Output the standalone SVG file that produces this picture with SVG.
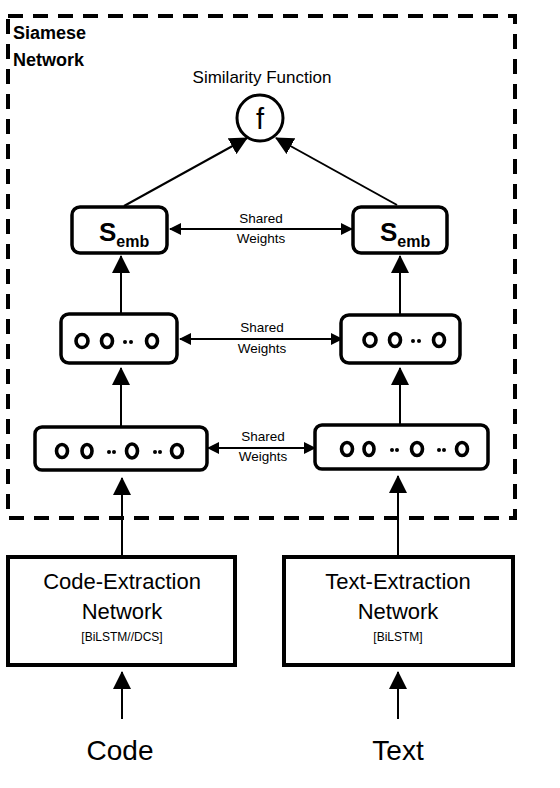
<svg xmlns="http://www.w3.org/2000/svg" width="560" height="788" viewBox="0 0 560 788">
<style>
text{font-family:"Liberation Sans",Arial,sans-serif;fill:#000}
.frame{fill:none;stroke:#000;stroke-width:4;stroke-dasharray:15 10}
.rbox{fill:#fff;stroke:#000;stroke-width:3.5}
.ebox{fill:#fff;stroke:#000;stroke-width:4}
.conn{stroke:#000;stroke-width:2;fill:none}
.big{marker-end:url(#ah)}
.both{marker-start:url(#sh);marker-end:url(#sh)}
.neu{fill:none;stroke:#000;stroke-width:3.6}
.dot{fill:#000}
.sw{font-size:13.5px;text-anchor:middle}
.title{font-size:18px;font-weight:bold}
.ex{font-size:22px;text-anchor:middle}
.exs{font-size:12px;text-anchor:middle}
.in{font-size:28px;text-anchor:middle}
</style>
<defs>
<marker id="ah" viewBox="0 0 18 18" refX="17" refY="9" markerWidth="18" markerHeight="18" markerUnits="userSpaceOnUse" orient="auto"><path d="M0,0 L18,9 L0,18 z" fill="#000"/></marker>
<marker id="sh" viewBox="0 0 12 12" refX="11" refY="6" markerWidth="12" markerHeight="12" markerUnits="userSpaceOnUse" orient="auto-start-reverse"><path d="M0,0 L12,6 L0,12 z" fill="#000"/></marker>
</defs>
<rect width="560" height="788" fill="#fff"/>
<g id="siamese">
<rect class="frame" x="8" y="16" width="507" height="502"/>
<text class="title" x="13" y="39">Siamese</text>
<text class="title" x="13" y="66">Network</text>
</g>
<g id="connectors">
<line class="conn big" x1="124" y1="206" x2="247" y2="138"/>
<line class="conn big" x1="397" y1="205" x2="276" y2="138"/>
<line class="conn both" x1="170" y1="229" x2="352" y2="229"/>
<line class="conn both" x1="180" y1="339" x2="342" y2="339"/>
<line class="conn both" x1="208" y1="448" x2="315" y2="448"/>
<line class="conn big" x1="121" y1="314" x2="121" y2="256"/>
<line class="conn big" x1="400" y1="315" x2="400" y2="256"/>
<line class="conn big" x1="121" y1="427" x2="121" y2="368"/>
<line class="conn big" x1="400" y1="425" x2="400" y2="368"/>
<line class="conn big" x1="122" y1="555" x2="122" y2="478"/>
<line class="conn big" x1="398" y1="555" x2="398" y2="476"/>
<line class="conn big" x1="122" y1="719" x2="122" y2="672"/>
<line class="conn big" x1="398" y1="719" x2="398" y2="672"/>
<text class="sw" x="261" y="223">Shared</text>
<text class="sw" x="261" y="243">Weights</text>
<text class="sw" x="262" y="332">Shared</text>
<text class="sw" x="262" y="353">Weights</text>
<text class="sw" x="263" y="441">Shared</text>
<text class="sw" x="263" y="461">Weights</text>
</g>
<g id="sim">
<text x="262" y="83" font-size="17" text-anchor="middle">Similarity Function</text>
<circle cx="260" cy="118" r="23" fill="#fff" stroke="#000" stroke-width="3"/>
<text x="260" y="129" font-size="29" text-anchor="middle">f</text>
</g>
<g id="semb-left">
<rect class="rbox" x="72" y="207" width="95" height="46" rx="8"/>
<text x="99" y="241" font-size="26" font-weight="bold">S<tspan font-size="16" dy="6">emb</tspan></text>
</g>
<g id="semb-right">
<rect class="rbox" x="353" y="207" width="94" height="46" rx="8"/>
<text x="380" y="241" font-size="26" font-weight="bold">S<tspan font-size="16" dy="6">emb</tspan></text>
</g>
<g id="mid-left">
<rect class="rbox" x="61" y="314" width="116" height="49" rx="8"/>
<ellipse class="neu" cx="82" cy="341" rx="6" ry="6.5"/>
<ellipse class="neu" cx="107" cy="341" rx="5.5" ry="6.5"/>
<circle class="dot" cx="125" cy="342" r="2"/>
<circle class="dot" cx="131" cy="342" r="2"/>
<ellipse class="neu" cx="152" cy="341" rx="5.5" ry="6.5"/>
</g>
<g id="mid-right">
<rect class="rbox" x="341" y="315" width="119" height="48" rx="8"/>
<ellipse class="neu" cx="370" cy="340" rx="6" ry="6.5"/>
<ellipse class="neu" cx="395" cy="340" rx="5.5" ry="6.5"/>
<circle class="dot" cx="413" cy="341" r="2"/>
<circle class="dot" cx="419" cy="341" r="2"/>
<ellipse class="neu" cx="439" cy="340" rx="5.5" ry="6.5"/>
</g>
<g id="low-left">
<rect class="rbox" x="35" y="427" width="172" height="43" rx="7"/>
<ellipse class="neu" cx="62" cy="451" rx="5.5" ry="6.5"/>
<ellipse class="neu" cx="87" cy="451" rx="5" ry="6.5"/>
<circle class="dot" cx="109" cy="452" r="2"/>
<circle class="dot" cx="114" cy="452" r="2"/>
<ellipse class="neu" cx="132" cy="451" rx="5.5" ry="7"/>
<circle class="dot" cx="155" cy="452" r="2"/>
<circle class="dot" cx="160" cy="452" r="2"/>
<ellipse class="neu" cx="177" cy="451" rx="5.5" ry="6.5"/>
</g>
<g id="low-right">
<rect class="rbox" x="315" y="425" width="173" height="44" rx="7"/>
<ellipse class="neu" cx="347" cy="449" rx="5.5" ry="6.5"/>
<ellipse class="neu" cx="369" cy="449" rx="5" ry="6.5"/>
<circle class="dot" cx="392" cy="450" r="2"/>
<circle class="dot" cx="397" cy="450" r="2"/>
<ellipse class="neu" cx="417" cy="449" rx="5.5" ry="6.5"/>
<circle class="dot" cx="439" cy="450" r="2"/>
<circle class="dot" cx="444" cy="450" r="2"/>
<ellipse class="neu" cx="462" cy="449" rx="5.5" ry="6.5"/>
</g>
<g id="code-extraction">
<rect class="ebox" x="8" y="557" width="227" height="108"/>
<text class="ex" x="122" y="589">Code-Extraction</text>
<text class="ex" x="122" y="619">Network</text>
<text class="exs" x="122" y="641">[BiLSTM//DCS]</text>
</g>
<g id="text-extraction">
<rect class="ebox" x="284" y="557" width="229" height="108"/>
<text class="ex" x="398" y="589">Text-Extraction</text>
<text class="ex" x="398" y="619">Network</text>
<text class="exs" x="398" y="641">[BiLSTM]</text>
</g>
<g id="code">
<text class="in" x="120" y="760">Code</text>
</g>
<g id="text">
<text class="in" x="398" y="760">Text</text>
</g>
</svg>
